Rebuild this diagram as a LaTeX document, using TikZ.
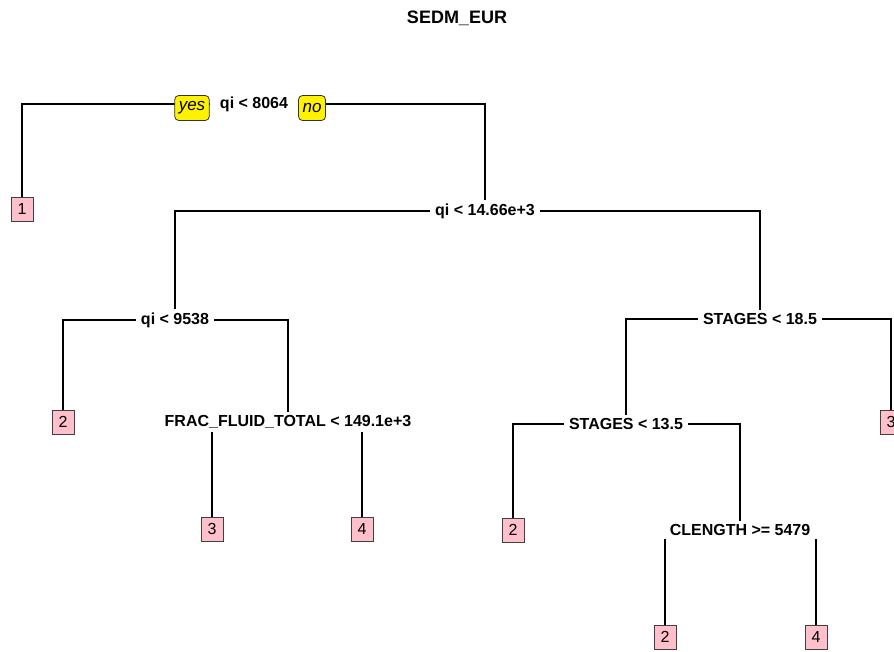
\documentclass[tikz,border=0pt]{standalone}
\usepackage{fontspec}
\setmainfont{Liberation Sans}
\usepackage{xcolor}
\usetikzlibrary{positioning,backgrounds}
\definecolor{leafpink}{HTML}{FFC0CB}

\begin{document}
\begin{tikzpicture}[x=1pt, y=-1pt,
    split/.style={fill=white, inner xsep=5pt, inner ysep=3pt, font=\fontsize{16}{18}\selectfont\bfseries},
    leaf/.style={rectangle, draw=black!75, fill=leafpink, line width=0.8pt, minimum width=22pt, minimum height=24pt, inner sep=0pt, font=\fontsize{16}{18}\selectfont},
    tag/.style={rectangle, rounded corners=4pt, draw=black!80, fill=yellow, line width=0.8pt, minimum height=25pt, inner xsep=4pt, inner ysep=0pt, font=\fontsize{17}{19}\selectfont\itshape},
    branch/.style={draw=black, line width=1.8pt}
]

% Picture area
\clip (0,0) rectangle (894,651);

% Title
\node[font=\fontsize{18}{20}\selectfont\bfseries] (title) at (457,18) {SEDM\_EUR};

% Splits
\node[split, inner xsep=10pt] (s1) at (254,104) {qi < 8064};
\node[split] (s2) at (485,211) {qi < 14.66e+3};
\node[split] (s3) at (175,320) {qi < 9538};
\node[split] (s4) at (760,319) {STAGES < 18.5};
\node[split] (s5) at (288,422) {FRAC\_FLUID\_TOTAL < 149.1e+3};
\node[split] (s6) at (626,424) {STAGES < 13.5};
\node[split, inner xsep=10pt] (s7) at (740,530) {CLENGTH >= 5479};

% Leaves
\node[leaf] (l1) at (22,209) {1};
\node[leaf] (l2a) at (63,422) {2};
\node[leaf] (l3a) at (212,529) {3};
\node[leaf] (l4a) at (362,529) {4};
\node[leaf] (l3b) at (891,422) {3};
\node[leaf] (l2b) at (513,530) {2};
\node[leaf] (l2c) at (665,637) {2};
\node[leaf] (l4b) at (816,637) {4};

% Branches
\begin{scope}[on background layer]
\draw[branch] (s1.center) -| (l1);
\draw[branch] (s1.center) -| (s2);
\draw[branch] (s2.center) -| (s3);
\draw[branch] (s2.center) -| (s4);
\draw[branch] (s3.center) -| (l2a);
\draw[branch] (s3.center) -| (s5);
\draw[branch] (s5.center) -| (l3a);
\draw[branch] (s5.center) -| (l4a);
\draw[branch] (s4.center) -| (s6);
\draw[branch] (s4.center) -| (l3b);
\draw[branch] (s6.center) -| (l2b);
\draw[branch] (s6.center) -| (s7);
\draw[branch] (s7.center) -| (l2c);
\draw[branch] (s7.center) -| (l4b);
\end{scope}

% yes / no
\node[tag] (yes) at (192,108) {yes};
\node[tag] (no) at (312,108) {no};

\end{tikzpicture}
\end{document}
